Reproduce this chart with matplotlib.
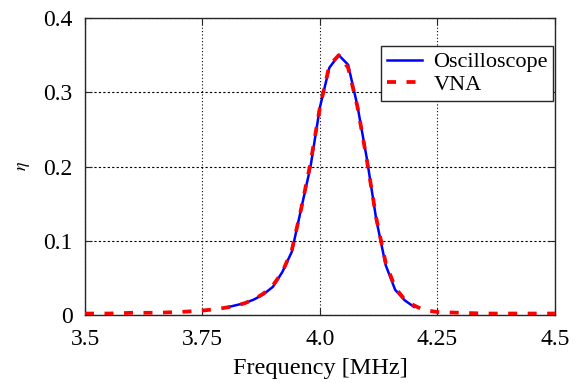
import numpy as np
import matplotlib
matplotlib.use("Agg")
from matplotlib import pyplot as plt

# oscilloscope measurement (MHz, efficiency)
freqOsc = [3.80, 3.82, 3.84, 3.86, 3.88, 3.90, 3.92, 3.94, 3.96, 3.98, 4.00,
           4.02, 4.04, 4.06, 4.08, 4.10, 4.12, 4.14, 4.16, 4.18, 4.20]
etaOsc = [0.010, 0.013, 0.016, 0.021, 0.028, 0.038, 0.058, 0.085, 0.143, 0.200, 0.280,
          0.333, 0.350, 0.337, 0.281, 0.210, 0.128, 0.067, 0.034, 0.020, 0.011]

# VNA measurement
freqVna = [3.50, 3.55, 3.60, 3.65, 3.70, 3.75, 3.78, 3.80, 3.82, 3.84, 3.86, 3.88,
           3.90, 3.92, 3.94, 3.96, 3.98, 4.00, 4.02, 4.04, 4.06, 4.08, 4.10, 4.12,
           4.14, 4.16, 4.18, 4.20, 4.22, 4.25, 4.30, 4.35, 4.40, 4.45, 4.50]
etaVna = [0.002, 0.002, 0.003, 0.003, 0.004, 0.006, 0.008, 0.010, 0.012, 0.016, 0.021, 0.029,
          0.040, 0.058, 0.087, 0.143, 0.205, 0.280, 0.336, 0.350, 0.333, 0.280, 0.208, 0.130,
          0.070, 0.037, 0.021, 0.013, 0.007, 0.004, 0.003, 0.002, 0.002, 0.002, 0.002]

xTicks = [3.5, 3.75, 4.0, 4.25, 4.5]
xTickLabels = ["3.5", "3.75", "4.0", "4.25", "4.5"]
yTicks = [0, 0.1, 0.2, 0.3, 0.4]
yTickLabels = ["0", "0.1", "0.2", "0.3", "0.4"]

plt.rcParams['font.family'] = ['Liberation Serif', 'DejaVu Serif']
plt.rcParams['mathtext.fontset'] = 'stix'

fig = plt.figure(figsize=(5.83, 3.83), dpi=100)
ax = fig.add_axes([0.1458, 0.1775, 0.806, 0.7755])

ax.plot(freqOsc, etaOsc, color='#0000ff', lw=1.8, label='Oscilloscope', zorder=3)
ax.plot(freqVna, etaVna, color='#ff0000', lw=2.7, dashes=(2.4, 2.8), label='VNA', zorder=4)

ax.set_xlim(3.5, 4.5)
ax.set_ylim(0, 0.4)
ax.set_xticks(xTicks)
ax.set_xticklabels(xTickLabels)
ax.set_yticks(yTicks)
ax.set_yticklabels(yTickLabels)
ax.tick_params(direction='in', length=5, width=0.8, labelsize=17,
               top=True, right=True, color='#262626')
ax.tick_params(axis='x', pad=10)
ax.tick_params(axis='y', pad=9)
ax.xaxis.grid(True, color='black', linestyle=(0, (1, 2)), linewidth=0.8)
ax.yaxis.grid(True, color='black', linestyle=(0, (2, 2)), linewidth=0.8)

for s in ax.spines.values():
    s.set_color('#262626')
    s.set_linewidth(1.0)

ax.set_xlabel('Frequency [MHz]', fontsize=17.5, labelpad=6)
ax.set_ylabel(r'$\eta$', fontsize=13, labelpad=8)

leg = ax.legend(loc='upper right', bbox_to_anchor=(0.997, 0.905), borderaxespad=0,
                fontsize=16, fancybox=False, framealpha=1, edgecolor='#262626',
                handlelength=1.6, handletextpad=0.5, borderpad=0.25, labelspacing=0.1)
leg.get_frame().set_linewidth(1.0)

fig.savefig("out.png", dpi=100)
